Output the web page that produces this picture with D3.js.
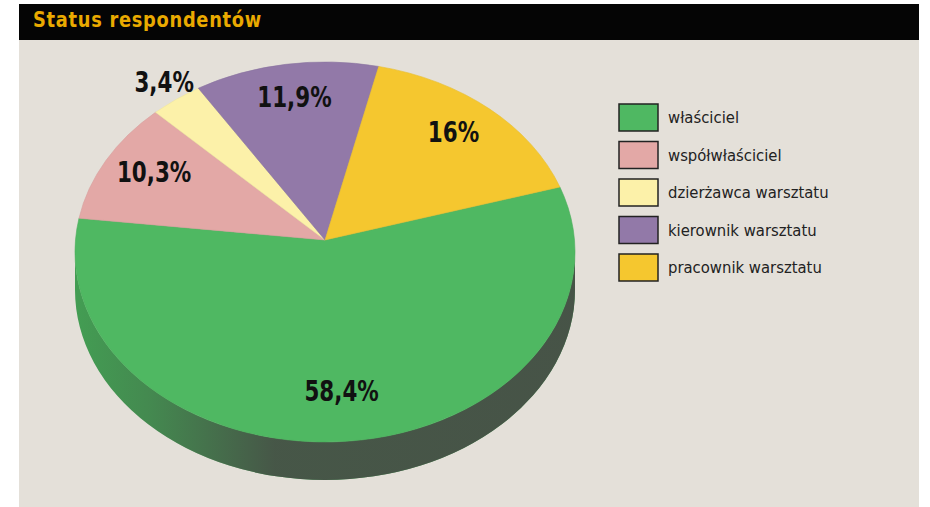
<!DOCTYPE html>
<meta charset="utf-8">
<style>
body { margin: 0; background: #fff; }
text { font-family: "Liberation Sans Narrow", "DejaVu Sans", sans-serif; }
</style>
<svg width="930" height="507"></svg>
<script src="https://d3js.org/d3.v7.min.js"></script>
<script>
var categories = ["właściciel", "współwłaściciel", "dzierżawca warsztatu", "kierownik warsztatu", "pracownik warsztatu"]
var values = [58.4, 10.3, 3.4, 11.9, 16]
var valueLabels = ["58,4%", "10,3%", "3,4%", "11,9%", "16%"]
var colors = ["#4fb862", "#e3a8a6", "#fcf1a9", "#9279a8", "#f5c72f"]

var svg = d3.select('svg')

// no narrow font here, so squeeze text horizontally
function narrow(x, y, sx) {
  return 'translate(' + x + ',' + y + ') scale(' + sx + ',1)'
}

// panel + title bar
svg.append('rect').attr('x', 19).attr('y', 4).attr('width', 900).attr('height', 503).attr('fill', '#e4e0d9')
svg.append('rect').attr('x', 19).attr('y', 4).attr('width', 900).attr('height', 36).attr('fill', '#050505')
svg.append('text')
  .attr('transform', narrow(33, 27, 0.81))
  .attr('fill', '#eaaa00')
  .attr('font-size', 22)
  .attr('font-weight', 'bold')
  .attr('letter-spacing', 0.9)
  .text('Status respondentów')

// 3d pie geometry
var cx = 325, cy = 252, rx = 250, ry = 190, depth = 38
var apex = [325, 240]
var start = 70 * Math.PI / 180

function pt(a, dy) {
  return [cx + rx * Math.sin(a), cy - ry * Math.cos(a) + (dy || 0)]
}

var pie = d3.pie().sort(null).value(function (d) { return d })
  .startAngle(start).endAngle(start + 2 * Math.PI)
var arcs = pie(values)

var defs = svg.append('defs')
var shade = defs.append('linearGradient').attr('id', 'sideShade')
  .attr('gradientUnits', 'userSpaceOnUse')
  .attr('x1', cx - rx).attr('x2', cx + rx).attr('y1', 0).attr('y2', 0)
shade.append('stop').attr('offset', '0%').attr('stop-color', '#474d46').attr('stop-opacity', 0)
shade.append('stop').attr('offset', '15%').attr('stop-color', '#474d46').attr('stop-opacity', 0.25)
shade.append('stop').attr('offset', '40%').attr('stop-color', '#474d46').attr('stop-opacity', 0.88)
shade.append('stop').attr('offset', '100%').attr('stop-color', '#474d46').attr('stop-opacity', 0.92)

var g = svg.append('g')

// side walls (front half only)
arcs.forEach(function (d, i) {
  var lo = Math.PI / 2, hi = 3 * Math.PI / 2
  ;[0, -2 * Math.PI, 2 * Math.PI].forEach(function (off) {
    var s = Math.max(d.startAngle + off, lo), e = Math.min(d.endAngle + off, hi)
    if (e <= s) return
    var p0 = pt(s), p1 = pt(e), q1 = pt(e, depth), q0 = pt(s, depth)
    var p = 'M' + p0 + 'A' + rx + ',' + ry + ' 0 0 1 ' + p1 +
      'L' + q1 + 'A' + rx + ',' + ry + ' 0 0 0 ' + q0 + 'Z'
    g.append('path').attr('d', p).attr('fill', d3.color(colors[i]).darker(0.45))
    g.append('path').attr('d', p).attr('fill', 'url(#sideShade)')
  })
})

// top face
g.selectAll('path.slice')
  .data(arcs)
  .enter().append('path')
  .attr('class', 'slice')
  .attr('fill', function (d, i) { return colors[i] })
  .attr('stroke', function (d, i) { return d3.color(colors[i]).darker(0.15) })
  .attr('stroke-width', 0.6)
  .attr('d', function (d) {
    var large = (d.endAngle - d.startAngle) > Math.PI ? 1 : 0
    return 'M' + apex + 'L' + pt(d.startAngle) +
      'A' + rx + ',' + ry + ' 0 ' + large + ' 1 ' + pt(d.endAngle) + 'Z'
  })

// value labels
g.selectAll('text.val')
  .data(arcs)
  .enter().append('text')
  .attr('class', 'val')
  .attr('text-anchor', 'middle')
  .attr('font-size', 29)
  .attr('font-weight', 'bold')
  .attr('fill', '#111')
  .attr('transform', function (d) {
    var m = (d.startAngle + d.endAngle) / 2
    var k = d.data < 5 ? 1.08 : 0.78
    var e = pt(m)
    var x = apex[0] + k * (e[0] - apex[0])
    var y = apex[1] + k * (e[1] - apex[1])
    return narrow(x, y + 4, 0.74)
  })
  .text(function (d, i) { return valueLabels[i] })

// legend
var legend = svg.append('g').attr('transform', 'translate(619,104)')
var rows = legend.selectAll('g')
  .data(categories)
  .enter().append('g')
  .attr('transform', function (d, i) { return 'translate(0,' + (i * 37.5) + ')' })
rows.append('rect')
  .attr('width', 39).attr('height', 27)
  .attr('fill', function (d, i) { return colors[i] })
  .attr('stroke', '#222').attr('stroke-width', 1.5)
rows.append('text')
  .attr('transform', narrow(49, 19, 0.9))
  .attr('font-size', 16.5)
  .attr('fill', '#222')
  .text(function (d) { return d })
</script>
